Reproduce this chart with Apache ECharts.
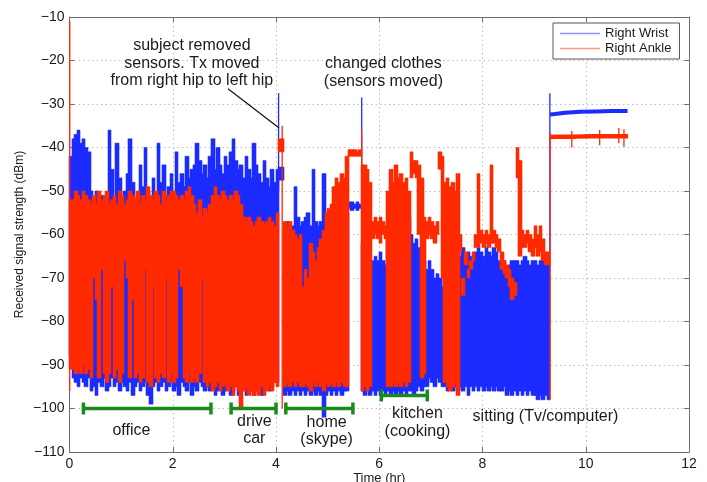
<!DOCTYPE html>
<html><head><meta charset="utf-8">
<script src="https://cdn.jsdelivr.net/npm/echarts@6/dist/echarts.min.js"></script>
<style>html,body{margin:0;padding:0;background:#fff}#c{width:707px;height:482px}</style>
</head><body><div id="c"></div>
<script>
// sampling interval of the envelope arrays (hours)
const stepHr = 0.05;

// Right Wrist envelope (upper / lower, dBm) per 0.05 h from t = 0
const wristHi = [
 -42,-38,-37,-36,-39,-38,-40,-41,-50,-52,
 -50,-52,-51,-53,-52,-36,-45,-52,-39,-47,
 -52,-50,-46,-38,-48,-52,-51,-44,-49,-40,
 -50,-52,-47,-51,-39,-48,-44,-51,-49,-46,
 -50,-41,-48,-46,-49,-42,-47,-45,-44,-39,
 -43,-46,-44,-47,-42,-38,-45,-40,-44,-46,
 -42,-44,-41,-38,-43,-45,-44,-47,-42,-45,
 -47,-39,-44,-46,-48,-43,-47,-49,-45,-48,
 -45,-44.5,-44.5,-60,-57,-59,-58,-49,-56,-58,
 -57,-56,-55,-58,-45,-57,-58,-57,-46,-56,
 -55,-56,-53,-52,-54,-53,-55,-55,-52.5,-52.5,
 -53,-52.5,-53,-62,-70,-68,-66,-66,-65,-66,
 -64,-66,-67,-60,-55,-56,-55,-57,-56,-55,
 -57,-56,-60,-62,-61,-63,-64,-66,-68,-66,
 -68,-70,-69,-70,-72,-62,-60,-61,-63,-64,
 -64,-65,-63,-66,-64,-65,-66,-64,-63,-64,
 -65,-63,-64,-65,-63,-64,-66,-67,-66,-68,
 -67,-66,-66,-66,-67,-66,-65,-66,-67,-66,
 -66,-67,-66,-66,-67,-66
];
const wristLo = [
 -88,-93,-94,-95,-93,-94,-95,-93,-96,-95,
 -97,-94,-95,-93,-96,-95,-93,-95,-94,-96,
 -94,-95,-96,-94,-97,-95,-94,-96,-95,-94,
 -97,-99,-95,-94,-96,-95,-94,-96,-95,-94,
 -96,-95,-97,-94,-95,-96,-94,-97,-95,-96,
 -94,-95,-96,-95,-96,-95,-97,-96,-95,-97,
 -96,-95,-97,-96,-95,-97,-96,-95,-97,-96,
 -95,-97,-96,-95,-97,-96,-95,-96,-95,-94,
 -94,-47.5,-47.5,-97,-96,-97,-96,-97,-96,-97,
 -96,-97,-96,-97,-96,-97,-96,-97,-102,-97,
 -96,-97,-96,-97,-96,-97,-96,-96,-54,-54.5,
 -54,-54.5,-54,-96,-97,-96,-97,-96,-97,-96,
 -97,-96,-97,-96,-97,-96,-97,-96,-97,-96,
 -97,-96,-96,-97,-96,-95,-96,-95,-95,-93,
 -94,-95,-93,-94,-95,-95,-96,-95,-96,-95,
 -96,-95,-96,-95,-97,-95,-96,-95,-96,-95,
 -96,-95,-96,-95,-96,-95,-96,-96,-95,-97,
 -96,-97,-96,-97,-96,-97,-96,-97,-96,-97,
 -97,-98,-97,-98,-97,-98
];
// Right Ankle envelope (upper / lower, dBm)
const ankleHi = [
 -52,-52,-50,-51,-52,-50,-51,-52,-53,-51,
 -53,-50,-52,-51,-50,-53,-52,-51,-53,-50,
 -51,-53,-52,-50,-51,-52,-50,-53,-51,-52,
 -49,-51,-52,-50,-51,-53,-50,-52,-51,-50,
 -50,-51,-52,-51,-52,-50,-49,-51,-53,-55,
 -52,-56,-54,-55,-53,-51,-49,-51,-52,-50,
 -51,-52,-51,-52,-50,-51,-53,-56,-57,-56,
 -57,-58,-57,-56,-57,-58,-57,-56,-57,-58,
 -55,-38,-38,-57,-58,-57,-59,-60,-61,-60,
 -72,-68,-70,-62,-64,-66,-63,-61,-59,-55,
 -54,-53,-49,-47,-48,-46,-47,-42,-40.5,-40.5,
 -40.5,-41,-40.5,-44,-44,-45,-48,-57,-56,-57,
 -56,-57,-58,-50,-45,-48,-44,-47,-46,-48,
 -47,-50,-41,-43,-43,-44,-47,-56,-57,-56,
 -57,-58,-57,-41,-42,-48,-47,-49,-48,-50,
 -46,-60,-70,-64,-68,-66,-64,-60,-46,-59,
 -60,-59,-60,-44,-59,-60,-61,-64,-66,-67,
 -68,-70,-71,-40,-43,-59,-60,-59,-60,-61,
 -58,-60,-58,-61,-64,-64
];
const ankleLo = [
 -91,-91,-92,-91,-92,-90,-92,-91,-93,-70,
 -75,-93,-68,-92,-94,-92,-72,-93,-91,-94,
 -92,-66,-70,-93,-75,-93,-92,-94,-93,-68,
 -94,-95,-72,-93,-94,-92,-93,-70,-94,-92,
 -94,-93,-68,-72,-93,-94,-92,-94,-93,-94,
 -92,-70,-94,-95,-94,-96,-95,-94,-96,-95,
 -94,-96,-95,-97,-95,-96,-100,-96,-95,-97,
 -96,-97,-96,-97,-95,-97,-96,-95,-96,-94,
 -95,-41,-41,-95,-94,-95,-94,-95,-94,-95,
 -95,-94,-95,-96,-94,-95,-94,-95,-96,-94,
 -95,-94,-95,-94,-95,-94,-95,-95,-42,-42,
 -42,-42,-42,-96,-95,-96,-95,-61,-60,-61,
 -62,-60,-61,-95,-95,-94,-95,-94,-95,-94,
 -95,-94,-47,-46,-47,-60,-93,-92,-61,-60,
 -61,-62,-60,-45,-70,-94,-95,-96,-95,-94,
 -97,-64,-74,-67,-70,-68,-66,-63,-63,-62,
 -63,-62,-63,-62,-62,-63,-64,-68,-69,-70,
 -72,-75,-74,-47,-65,-63,-63,-62,-64,-65,
 -63,-65,-64,-66,-67,-67
];

// isolated thin spikes (time, top, bottom)
const wristSpikeT = [4.05, 5.66, 9.305];
const wristSpikeHi = [-27.5, -28.5, -27.5];
const wristSpikeLo = [-50, -56, -66];
const ankleSpikeT = [0.005, 4.12, 5.66, 9.31, 9.73, 10.27, 10.64, 10.74];
const ankleSpikeHi = [-11, -35, -36, -36.6, -36.2, -36.0, -35.5, -35.8];
const ankleSpikeLo = [-96, -100, -55, -98, -40.0, -39.5, -39.0, -39.8];

// steady sitting segment
const wristTailT = [9.31, 9.4, 9.6, 9.9, 10.2, 10.5, 10.81];
const wristTailV = [-32.4, -32.3, -32.0, -31.8, -31.7, -31.6, -31.6];
const ankleTailT = [9.31, 9.5, 9.8, 10.1, 10.4, 10.82];
const ankleTailV = [-37.6, -37.5, -37.5, -37.4, -37.4, -37.4];

// activity brackets
const activityStart = [0.27, 3.13, 4.19, 6.04];
const activityEnd = [2.74, 4.0, 5.49, 6.93];
const activityLevel = [-100, -100, -100, -97];

// activity labels
const labelText = ['office', 'drive\ncar', 'home\n(skype)', 'kitchen\n(cooking)', 'sitting (Tv/computer)'];
const labelT = [1.2, 3.58, 4.98, 6.74, 9.22];
const labelV = [-105.1, -105.0, -105.2, -103.2, -101.9];

// notes
const noteText = ['subject removed\nsensors. Tx moved\nfrom right hip to left hip', 'changed clothes\n(sensors moved)'];
const noteT = [2.37, 6.08];
const noteV = [-20.6, -22.8];
const arrowT = [3.07, 4.06];
const arrowV = [-26.5, -35.5];

const xTicks = {min: 0, max: 12, interval: 2};
const yTicks = {min: -110, max: -10, interval: 10};

const FONT = '"Liberation Sans", Arial, Helvetica, sans-serif';
const BLUE = '#1c2cff';
const RED = '#ff2a00';
const GREEN = '#1a8a1a';
const FRAME = '#6e6e6e';

function rangeSeries(name, color, hi, lo) {
  const data = hi.map((h, i) => [i * stepHr, h, lo[i]]);
  return {
    type: 'custom', name: name, silent: true, animation: false,
    itemStyle: {color: color},
    encode: {x: 0, y: [1, 2]},
    data: data,
    renderItem: function (params, api) {
      const h = api.value(1), l = api.value(2);
      if (isNaN(h) || isNaN(l)) return null;
      const t = api.value(0);
      const a = api.coord([t, h]);
      const b = api.coord([t + stepHr, l]);
      const x0 = Math.floor(a[0]), x1 = Math.ceil(b[0]);
      return {type: 'rect', shape: {x: x0, y: a[1], width: x1 - x0, height: Math.max(1, b[1] - a[1])},
              style: {fill: color, stroke: color, lineWidth: 0.6}};
    }
  };
}
function spikeSeries(name, color, ts, hi, lo) {
  return {
    type: 'custom', name: name, silent: true, animation: false,
    encode: {x: 0, y: [1, 2]},
    data: ts.map((t, i) => [t, hi[i], lo[i]]),
    renderItem: function (params, api) {
      const a = api.coord([api.value(0), api.value(1)]);
      const b = api.coord([api.value(0), api.value(2)]);
      return {type: 'line', shape: {x1: a[0], y1: a[1], x2: b[0], y2: b[1]}, style: {stroke: color, lineWidth: 1.3}};
    }
  };
}
function tailSeries(name, color, ts, vs, w) {
  return {
    type: 'line', name: name, silent: true, animation: false, symbol: 'none',
    lineStyle: {color: color, width: w}, itemStyle: {color: color},
    data: ts.map((t, i) => [t, vs[i]])
  };
}
function textSeries(name, texts, ts, vs, size, lh) {
  return {
    type: 'custom', name: name, silent: true, animation: false,
    encode: {x: 0, y: 1},
    data: ts.map((t, i) => [t, vs[i], i]),
    renderItem: function (params, api) {
      const p = api.coord([api.value(0), api.value(1)]);
      return {type: 'text', x: p[0], y: p[1], style: {text: texts[api.value(2)], fill: '#1a1a1a', fontSize: size, fontFamily: FONT, lineHeight: lh, align: 'center', verticalAlign: 'middle'}};
    }
  };
}

const bracketSeries = {
  type: 'custom', name: 'activity', silent: true, animation: false,
  encode: {x: [0, 1], y: 2},
  data: activityStart.map((s, i) => [s, activityEnd[i], activityLevel[i]]),
  renderItem: function (params, api) {
    const s = api.coord([api.value(0), api.value(2)]);
    const e = api.coord([api.value(1), api.value(2)]);
    const st = {stroke: GREEN, lineWidth: 3.5};
    return {type: 'group', children: [
      {type: 'line', shape: {x1: s[0], y1: s[1], x2: e[0], y2: e[1]}, style: st},
      {type: 'line', shape: {x1: s[0], y1: s[1] - 6, x2: s[0], y2: s[1] + 6}, style: st},
      {type: 'line', shape: {x1: e[0], y1: e[1] - 6, x2: e[0], y2: e[1] + 6}, style: st}
    ]};
  }
};

const minusFmt = v => String(v).replace('-', '\u2212');
const chart = echarts.init(document.getElementById('c'), null, {renderer: 'canvas'});
chart.setOption({
  animation: false,
  backgroundColor: '#fff',
  textStyle: {fontFamily: FONT},
  grid: {left: 69.5, right: 18, top: 17, bottom: 30, containLabel: false, outerBoundsMode: 'none'},
  legend: {
    data: [{name: 'Right Wrist', icon: 'rect', itemStyle: {color: '#8a90ff'}}, {name: 'Right Ankle', icon: 'rect', itemStyle: {color: '#ff9a80'}}],
    orient: 'vertical', left: 553, top: 23,
    itemWidth: 40, itemHeight: 1.3, itemGap: 2,
    padding: [4, 8, 4, 7],
    backgroundColor: '#fff', borderColor: '#555', borderWidth: 1,
    selectedMode: false,
    textStyle: {fontSize: 13, color: '#1a1a1a', fontFamily: FONT}
  },
  xAxis: [
    {type: 'value', min: xTicks.min, max: xTicks.max, interval: xTicks.interval, position: 'bottom',
     name: 'Time (hr)', nameLocation: 'middle', nameGap: 20, nameMoveOverlap: false,
     nameTextStyle: {fontSize: 13, color: '#1a1a1a', fontFamily: FONT, verticalAlign: 'top'},
     axisLine: {show: true, onZero: false, lineStyle: {color: FRAME, width: 1}},
     axisTick: {show: true, inside: true, length: 5, lineStyle: {color: FRAME}},
     axisLabel: {fontSize: 14, color: '#1a1a1a', margin: 5, fontFamily: FONT},
     splitLine: {show: true, lineStyle: {type: [1.5, 3], color: '#bdbdbd', width: 1}}},
    {type: 'value', min: xTicks.min, max: xTicks.max, interval: xTicks.interval, position: 'top',
     axisLine: {show: true, onZero: false, lineStyle: {color: FRAME, width: 1}},
     axisTick: {show: true, inside: true, length: 5, lineStyle: {color: FRAME}},
     axisLabel: {show: false}, splitLine: {show: false}}
  ],
  yAxis: [
    {type: 'value', min: yTicks.min, max: yTicks.max, interval: yTicks.interval, position: 'left',
     name: 'Received signal strength (dBm)', nameLocation: 'middle', nameGap: 44, nameRotate: 90, nameMoveOverlap: false,
     nameTextStyle: {fontSize: 12, color: '#1a1a1a', fontFamily: FONT},
     axisLine: {show: true, onZero: false, lineStyle: {color: FRAME, width: 1}},
     axisTick: {show: true, inside: true, length: 5, lineStyle: {color: FRAME}},
     axisLabel: {fontSize: 14, color: '#1a1a1a', margin: 5, fontFamily: FONT, formatter: minusFmt},
     splitLine: {show: true, lineStyle: {type: [1.5, 3], color: '#bdbdbd', width: 1}}},
    {type: 'value', min: yTicks.min, max: yTicks.max, interval: yTicks.interval, position: 'right',
     axisLine: {show: true, onZero: false, lineStyle: {color: FRAME, width: 1}},
     axisTick: {show: true, inside: true, length: 5, lineStyle: {color: FRAME}},
     axisLabel: {show: false}, splitLine: {show: false}}
  ],
  series: [
    rangeSeries('Right Wrist', BLUE, wristHi, wristLo),
    spikeSeries('wrist spikes', BLUE, wristSpikeT, wristSpikeHi, wristSpikeLo),
    rangeSeries('Right Ankle', RED, ankleHi, ankleLo),
    tailSeries('wrist steady', BLUE, wristTailT, wristTailV, 4),
    tailSeries('ankle steady', RED, ankleTailT, ankleTailV, 4.5),
    spikeSeries('ankle spikes', RED, ankleSpikeT, ankleSpikeHi, ankleSpikeLo),
    bracketSeries,
    textSeries('labels', labelText, labelT, labelV, 16, 17.5),
    textSeries('notes', noteText, noteT, noteV, 16, 17.5),
    {type: 'line', name: 'arrow', silent: true, symbol: 'none', animation: false,
     lineStyle: {color: '#111', width: 1.2}, data: arrowT.map((t, i) => [t, arrowV[i]])}
  ]
});
</script>
</body></html>
